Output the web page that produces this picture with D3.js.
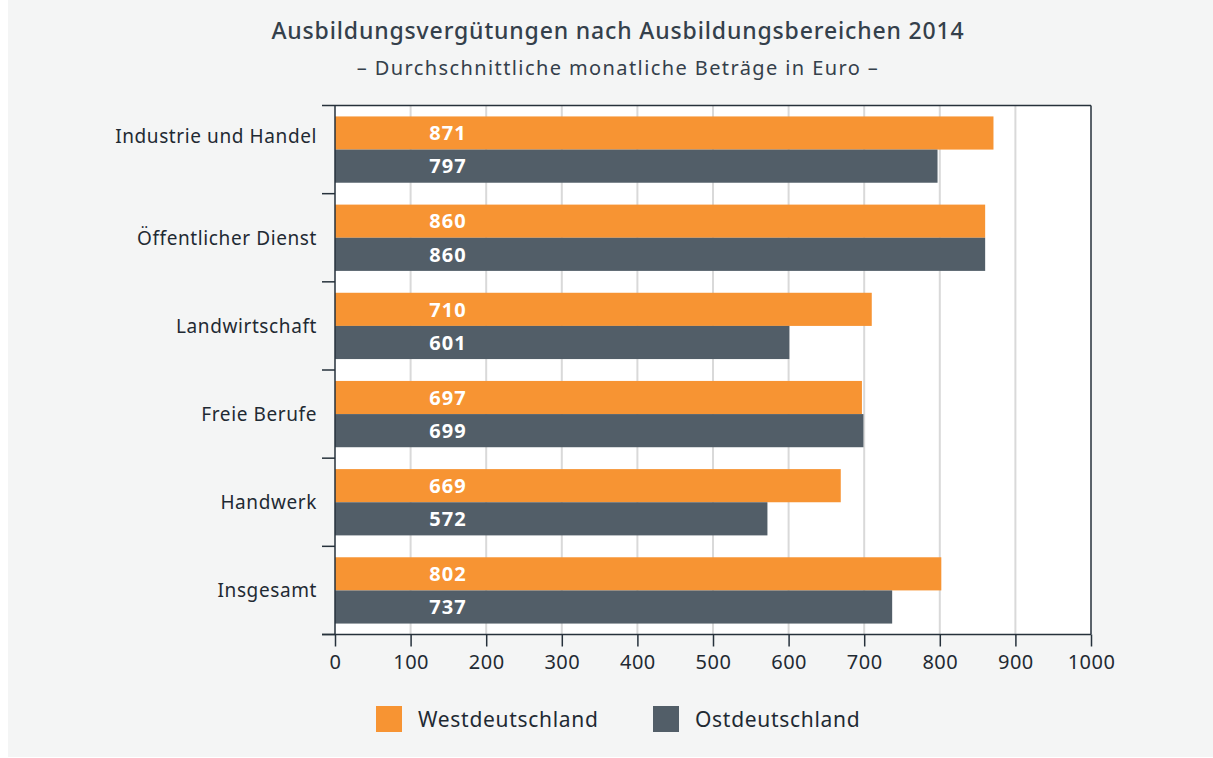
<!DOCTYPE html>
<meta charset="utf-8">
<head>
    <title>Ausbildungsvergütungen 2014</title>
    <script src="https://cdn.jsdelivr.net/npm/d3@7"></script>
</head>

<style>
    body { margin: 0; background: #ffffff; }
    svg { display: block; font-family: "Noto Sans", sans-serif; }
    .title { font-size: 23px; font-weight: 500; fill: #34404b; letter-spacing: 0.85px; }
    .subtitle { font-size: 20px; fill: #34404b; letter-spacing: 1.4px; }
    .cat { font-size: 19px; fill: #1f2a33; letter-spacing: 0.6px; }
    .val { font-size: 20px; font-weight: bold; fill: #ffffff; letter-spacing: 1px; }
    .tick text { font-size: 20px; fill: #1f2a33; letter-spacing: 0.5px; }
    .legend text { font-size: 21px; fill: #1f2a33; letter-spacing: 0.7px; }
</style>

<svg></svg>

<script>
    var vWidth = 1213;
    var vHeight = 758;

    // Data
    var vCategories = ['Industrie und Handel', 'Öffentlicher Dienst', 'Landwirtschaft', 'Freie Berufe', 'Handwerk', 'Insgesamt'];
    var vSeries = ['Westdeutschland', 'Ostdeutschland'];
    var vWest = [871, 860, 710, 697, 669, 802];
    var vOst = [797, 860, 601, 699, 572, 737];
    var vColors = ['#f79433', '#525e68'];
    var vTicks = [0, 100, 200, 300, 400, 500, 600, 700, 800, 900, 1000];

    var vRows = vCategories.map(function (c, i) {
        return { name: c, values: [vWest[i], vOst[i]] };
    });

    var svg = d3.select('svg').attr('width', vWidth).attr('height', vHeight);

    // gray panel
    svg.append('rect').attr('x', 8).attr('y', 0).attr('width', vWidth - 8).attr('height', 757)
        .attr('fill', '#f4f5f5');

    // Scales
    var x = d3.scaleLinear().domain([0, 1000]).range([335, 1091]);
    var y = d3.scaleBand().domain(vCategories).range([105.5, 634.5]).paddingInner(0).paddingOuter(0);
    var ySub = d3.scaleBand().domain(vSeries).range([0, y.bandwidth()]).paddingOuter(0.33).paddingInner(0);

    // Plot background + grid
    svg.append('rect').attr('x', x(0)).attr('y', 105.5).attr('width', x(1000) - x(0)).attr('height', 634.5 - 105.5)
        .attr('fill', '#ffffff');
    svg.append('g').selectAll('line').data(vTicks.slice(1, -1)).enter().append('line')
        .attr('x1', function (d) { return x(d); }).attr('x2', function (d) { return x(d); })
        .attr('y1', 105.5).attr('y2', 634.5)
        .attr('stroke', '#d9d9d9').attr('stroke-width', 2);

    // Bars
    var groups = svg.append('g').selectAll('g').data(vRows).enter().append('g')
        .attr('transform', function (d) { return 'translate(0,' + y(d.name) + ')'; });
    groups.selectAll('rect').data(function (d) { return d.values; }).enter().append('rect')
        .attr('x', x(0))
        .attr('y', function (d, i) { return ySub(vSeries[i]); })
        .attr('width', function (d) { return x(d) - x(0); })
        .attr('height', ySub.bandwidth())
        .attr('fill', function (d, i) { return vColors[i]; });
    groups.selectAll('text').data(function (d) { return d.values; }).enter().append('text')
        .attr('class', 'val')
        .attr('x', x(0) + 113)
        .attr('y', function (d, i) { return ySub(vSeries[i]) + ySub.bandwidth() / 2; })
        .attr('dy', '0.36em')
        .attr('text-anchor', 'middle')
        .text(function (d) { return d; });

    // Frame lines
    svg.append('line').attr('x1', 322).attr('x2', x(1000)).attr('y1', 105.5).attr('y2', 105.5)
        .attr('stroke', '#26313b').attr('stroke-width', 1.5);
    svg.append('line').attr('x1', x(1000)).attr('x2', x(1000)).attr('y1', 105.5).attr('y2', 634.5)
        .attr('stroke', '#26313b').attr('stroke-width', 1.5);
    svg.append('line').attr('x1', x(0)).attr('x2', x(0)).attr('y1', 105.5).attr('y2', 634.5)
        .attr('stroke', '#26313b').attr('stroke-width', 1.5);

    // Category ticks on y
    var yBounds = vCategories.map(function (c) { return y(c) + y.bandwidth(); });
    svg.append('g').selectAll('line').data(yBounds).enter().append('line')
        .attr('x1', 322).attr('x2', x(0))
        .attr('y1', function (d) { return d; }).attr('y2', function (d) { return d; })
        .attr('stroke', '#26313b').attr('stroke-width', 1.5);

    // first label sits a bit higher in the original
    svg.append('g').selectAll('text').data(vCategories).enter().append('text')
        .attr('class', 'cat')
        .attr('x', 317)
        .attr('y', function (d, i) { return y(d) + y.bandwidth() / 2 - (i === 0 ? 13 : 0); })
        .attr('dy', '0.36em')
        .attr('text-anchor', 'end')
        .text(function (d) { return d; });

    // x axis
    var xAxis = svg.append('g').attr('transform', 'translate(0,634.5)')
        .call(d3.axisBottom(x).tickValues(vTicks).tickFormat(d3.format('d'))
            .tickSize(12).tickPadding(8).tickSizeOuter(0));
    xAxis.select('.domain').remove();
    xAxis.selectAll('.tick line').attr('stroke', '#26313b').attr('stroke-width', 1.5);
    xAxis.attr('font-family', null).attr('font-size', null);
    svg.append('line').attr('x1', 322).attr('x2', x(1000)).attr('y1', 634.5).attr('y2', 634.5)
        .attr('stroke', '#26313b').attr('stroke-width', 1.5);

    // Titles
    svg.append('text').attr('class', 'title').attr('x', 618).attr('y', 39).attr('text-anchor', 'middle')
        .text('Ausbildungsvergütungen nach Ausbildungsbereichen 2014');
    svg.append('text').attr('class', 'subtitle').attr('x', 618).attr('y', 75).attr('text-anchor', 'middle')
        .text('– Durchschnittliche monatliche Beträge in Euro –');

    // Legend
    var legendX = [376, 653];
    var legend = svg.append('g').attr('class', 'legend').selectAll('g').data(vSeries).enter().append('g')
        .attr('transform', function (d, i) { return 'translate(' + legendX[i] + ',706)'; });
    legend.append('rect').attr('width', 26).attr('height', 26)
        .attr('fill', function (d, i) { return vColors[i]; });
    legend.append('text').attr('x', 42).attr('y', 13).attr('dy', '0.36em')
        .text(function (d) { return d; });
</script>
